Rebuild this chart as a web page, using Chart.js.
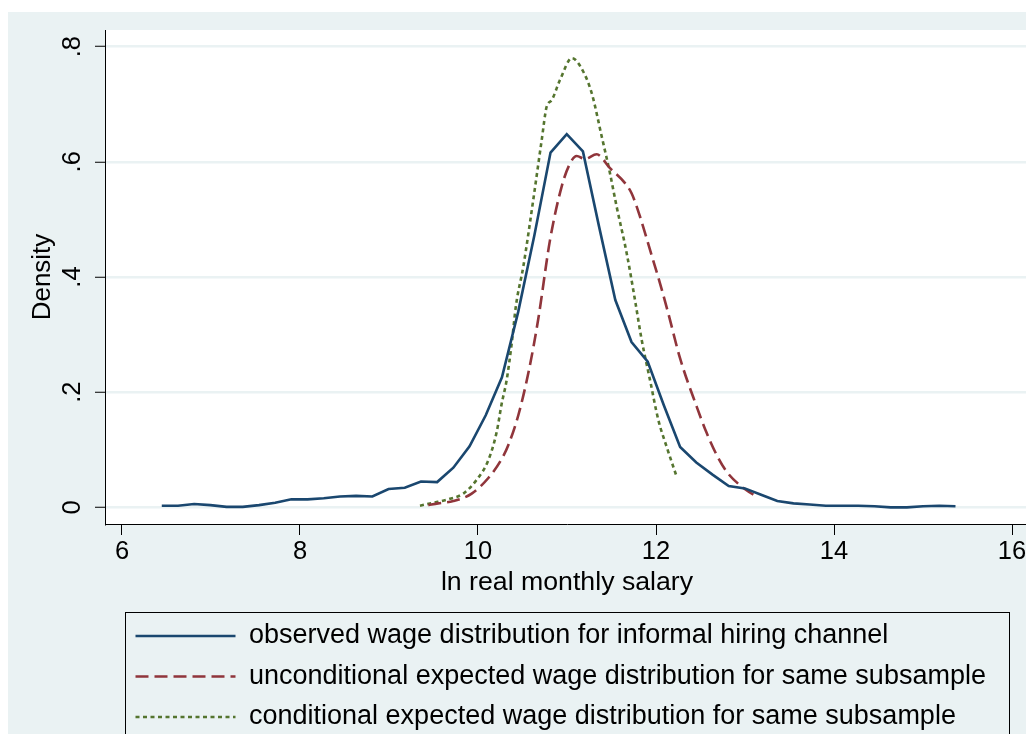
<!DOCTYPE html>
<html>
<head>
<meta charset="utf-8">
<script src="https://cdn.jsdelivr.net/npm/chart.js@4/dist/chart.umd.min.js"></script>
<style>
html, body { margin: 0; padding: 0; background: #fff; overflow: hidden; }
#wrap { position: absolute; left: 8px; top: 12px; width: 1040px; height: 740px; background: #eaf2f3; }
</style>
</head>
<body>
<div id="wrap"><canvas id="kdens" width="1040" height="740"></canvas></div>
<script>
const seriesNames = [
    'observed wage distribution for informal hiring channel',
    'unconditional expected wage distribution for same subsample',
    'conditional expected wage distribution for same subsample'
];
const xTicks = [6, 8, 10, 12, 14, 16];
const yTicks = [0, 0.2, 0.4, 0.6, 0.8];

// observed (solid)
const blueX = [6.447, 6.629, 6.811, 6.993, 7.175, 7.357, 7.539, 7.721, 7.903, 8.085,
    8.267, 8.449, 8.631, 8.813, 8.995, 9.177, 9.359, 9.541, 9.723, 9.905,
    10.087, 10.269, 10.451, 10.633, 10.815, 10.997, 11.179, 11.361, 11.543, 11.725,
    11.907, 12.089, 12.271, 12.453, 12.635, 12.817, 12.999, 13.181, 13.363, 13.545,
    13.727, 13.909, 14.091, 14.273, 14.455, 14.637, 14.819, 15.001, 15.183, 15.365];
const blueY = [0.003, 0.003, 0.006, 0.004, 0.001, 0.001, 0.004, 0.008, 0.014, 0.014,
    0.016, 0.019, 0.020, 0.019, 0.032, 0.034, 0.045, 0.044, 0.069, 0.106,
    0.160, 0.226, 0.339, 0.472, 0.616, 0.648, 0.618, 0.487, 0.360, 0.287,
    0.253, 0.177, 0.105, 0.078, 0.057, 0.037, 0.033, 0.022, 0.011, 0.007,
    0.005, 0.003, 0.003, 0.003, 0.002, 0.000, 0.000, 0.002, 0.003, 0.002];

// unconditional (dashed)
const redX = [9.442, 9.551, 9.722, 9.929, 10.116, 10.266, 10.340, 10.453, 10.576, 10.678,
    10.809, 10.940, 11.034, 11.109, 11.202, 11.334, 11.483, 11.652, 11.727, 11.820,
    11.933, 12.045, 12.138, 12.270, 12.457, 12.570, 12.682, 12.794, 12.963, 13.135];
const redY = [0.004, 0.007, 0.011, 0.024, 0.051, 0.084, 0.108, 0.160, 0.241, 0.328,
    0.464, 0.557, 0.597, 0.610, 0.605, 0.613, 0.589, 0.563, 0.545, 0.505,
    0.447, 0.389, 0.337, 0.259, 0.175, 0.129, 0.091, 0.062, 0.036, 0.018];

// conditional (dotted)
const greenX = [9.348, 9.498, 9.685, 9.835, 9.985, 10.116, 10.210, 10.266, 10.322, 10.379,
    10.427, 10.509, 10.621, 10.716, 10.772, 10.828, 10.921, 11.056, 11.174, 11.278,
    11.390, 11.483, 11.558, 11.671, 11.764, 11.839, 11.933, 12.026, 12.120, 12.233];
const greenY = [0.003, 0.008, 0.015, 0.024, 0.048, 0.082, 0.131, 0.180, 0.221, 0.285,
    0.351, 0.418, 0.534, 0.638, 0.696, 0.707, 0.742, 0.780, 0.759, 0.719,
    0.644, 0.580, 0.522, 0.441, 0.360, 0.291, 0.221, 0.152, 0.105, 0.053];

const FONT = "'Liberation Sans', Arial, sans-serif";
Chart.defaults.font.family = FONT;
Chart.defaults.color = '#000';

function toPoints(xs, ys) {
    return xs.map((x, i) => ({x: x, y: ys[i]}));
}

function yLabel(v) {
    if (v === 0) return '0';
    return v.toFixed(1).replace(/^0/, '');
}

// legend samples should copy the line style, not the point style
function legendLabels(chart) {
    const items = Chart.defaults.plugins.legend.labels.generateLabels(chart);
    items.forEach(it => {
        const ds = chart.data.datasets[it.datasetIndex];
        it.lineDash = ds.borderDash || [];
        it.lineWidth = ds.borderWidth;
        it.strokeStyle = ds.borderColor;
    });
    return items;
}

// white plot region, legend placement and the legend frame
const stataLook = {
    id: 'stataLook',
    beforeDraw(chart) {
        const a = chart.chartArea, ctx = chart.ctx;
        ctx.save();
        ctx.fillStyle = '#fff';
        ctx.fillRect(a.left, a.top, a.right - a.left, a.bottom - a.top);
        ctx.restore();
    },
    afterLayout(chart) {
        chart.legend.left = 114;
        chart.legend.top = 597;
    },
    afterDraw(chart) {
        const ctx = chart.ctx;
        ctx.save();
        ctx.strokeStyle = '#000';
        ctx.lineWidth = 1;
        ctx.strokeRect(117.5, 600.5, 884, 200);
        ctx.restore();
    }
};

new Chart('kdens', {
    type: 'line',
    data: {
        datasets: [
            {label: seriesNames[0], data: toPoints(blueX, blueY), borderColor: '#1a476f',
             borderWidth: 2.6, pointRadius: 0, tension: 0},
            {label: seriesNames[1], data: toPoints(redX, redY), borderColor: '#90353b',
             borderWidth: 2.6, borderDash: [13, 6], pointRadius: 0, cubicInterpolationMode: 'monotone'},
            {label: seriesNames[2], data: toPoints(greenX, greenY), borderColor: '#55752f',
             borderWidth: 2.6, borderDash: [4, 3.5], pointRadius: 0, cubicInterpolationMode: 'monotone'}
        ]
    },
    options: {
        responsive: false,
        animation: false,
        devicePixelRatio: 1,
        layout: {padding: {left: 0, top: 18, right: 19, bottom: 16.5}},
        plugins: {
            legend: {
                position: 'bottom', align: 'start', fullSize: false,
                labels: {usePointStyle: true, pointStyle: 'line', pointStyleWidth: 100,
                         padding: 13.5, color: '#000', font: {size: 27},
                         generateLabels: legendLabels}
            },
            tooltip: {enabled: false}
        },
        scales: {
            x: {
                type: 'linear', min: 5.809, max: 16.191,
                afterBuildTicks: s => { s.ticks = xTicks.map(v => ({value: v})); },
                afterFit: s => { s.height = 80; s.paddingLeft = 0; s.paddingRight = 0; },
                grid: {drawOnChartArea: false, tickLength: 11, tickColor: '#000', tickWidth: 1},
                border: {color: '#000', width: 1},
                ticks: {padding: 2, maxRotation: 0, autoSkip: false, color: '#000', font: {size: 25.5}},
                title: {display: true, text: 'ln real monthly salary', color: '#000',
                        font: {size: 26.7}, padding: {top: 0, bottom: 5.6}}
            },
            y: {
                type: 'linear', min: -0.0288, max: 0.8288,
                afterBuildTicks: s => { s.ticks = yTicks.map(v => ({value: v})); },
                afterFit: s => { s.width = 97; s.paddingTop = 0; s.paddingBottom = 0; },
                grid: {color: '#eaf2f3', lineWidth: 2.5, tickLength: 10, tickColor: '#000', tickWidth: 1},
                border: {color: '#000', width: 1},
                ticks: {padding: 11.5, minRotation: 90, maxRotation: 90, crossAlign: 'center',
                        color: '#000', font: {size: 25.5}, callback: yLabel},
                title: {display: true, text: 'Density', color: '#000',
                        font: {size: 26}, padding: {top: 19.7, bottom: 0}}
            }
        }
    },
    plugins: [stataLook]
});
</script>
</body>
</html>
